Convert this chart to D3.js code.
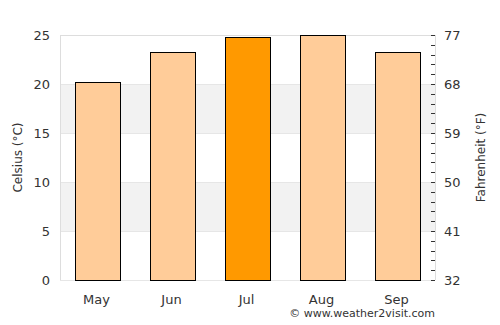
<!DOCTYPE html>
<html>
<head>
<meta charset="utf-8">
<script src="https://cdn.jsdelivr.net/npm/d3@7"></script>
<style>
  body { margin: 0; background: #fff; }
  text { font-family: "DejaVu Sans", sans-serif; fill: #333; }
</style>
</head>
<body>
<div id="chart"></div>
<script>
// monthly average temperatures (°C)
const months = ["May", "Jun", "Jul", "Aug", "Sep"];
const temps = [20.2, 23.3, 24.8, 25.0, 23.3];
const hottest = "Jul";
const celsiusTicks = [0, 5, 10, 15, 20, 25];
const fahrenheitTicks = [32, 41, 50, 59, 68, 77];

const width = 500;
const height = 325;
const margin = { top: 35, right: 65, bottom: 45, left: 60 };
const innerW = width - margin.left - margin.right;
const innerH = height - margin.top - margin.bottom;

const svg = d3.select("#chart")
  .append("svg")
  .attr("width", width)
  .attr("height", height);

const g = svg.append("g")
  .attr("transform", `translate(${margin.left},${margin.top})`);

const x = d3.scaleBand()
  .domain(months)
  .range([0, innerW])
  .paddingInner(0.4)
  .paddingOuter(0.2);

const y = d3.scaleLinear().domain([0, 25]).range([innerH, 0]);
const yF = d3.scaleLinear().domain([32, 77]).range([innerH, 0]);

// alternate shaded bands
[[5, 10], [15, 20]].forEach(b => {
  g.append("rect")
    .attr("x", 0)
    .attr("y", y(b[1]))
    .attr("width", innerW)
    .attr("height", y(b[0]) - y(b[1]))
    .attr("fill", "#f2f2f2");
});

// gridlines
g.selectAll(".grid")
  .data(celsiusTicks)
  .enter()
  .append("line")
  .attr("x1", 0)
  .attr("x2", innerW)
  .attr("y1", d => Math.round(y(d)) + 0.5)
  .attr("y2", d => Math.round(y(d)) + 0.5)
  .attr("stroke", "#e6e6e6");

// frame
g.append("line").attr("x1", 0.5).attr("x2", 0.5).attr("y1", 0).attr("y2", innerH).attr("stroke", "#ddd");
g.append("line").attr("x1", innerW + 0.5).attr("x2", innerW + 0.5).attr("y1", 0).attr("y2", innerH).attr("stroke", "#ddd");
g.append("line").attr("x1", 0).attr("x2", innerW).attr("y1", 0.5).attr("y2", 0.5).attr("stroke", "#ddd");

// bars
g.selectAll(".bar")
  .data(months)
  .enter()
  .append("rect")
  .attr("x", d => Math.round(x(d)) + 0.5)
  .attr("y", (d, i) => Math.round(y(temps[i])) + 0.5)
  .attr("width", Math.round(x.bandwidth()))
  .attr("height", (d, i) => innerH - Math.round(y(temps[i])))
  .attr("fill", d => d === hottest ? "#ff9900" : "#ffcc99")
  .attr("stroke", "#000")
  .attr("stroke-width", 1);

// left axis labels
g.selectAll(".ylab")
  .data(celsiusTicks)
  .enter()
  .append("text")
  .attr("x", -10)
  .attr("y", d => y(d))
  .attr("dy", "0.35em")
  .attr("text-anchor", "end")
  .style("font-size", "13px")
  .text(d => d);

// right axis minor ticks (every 1 °C)
const minor = d3.range(0, 26, 1);
g.selectAll(".minor")
  .data(minor)
  .enter()
  .append("line")
  .attr("x1", innerW - 4)
  .attr("x2", innerW)
  .attr("y1", d => Math.round(y(d)) + 0.5)
  .attr("y2", d => Math.round(y(d)) + 0.5)
  .attr("stroke", "#333");

g.selectAll(".flab")
  .data(fahrenheitTicks)
  .enter()
  .append("text")
  .attr("x", innerW + 9)
  .attr("y", d => yF(d))
  .attr("dy", "0.35em")
  .attr("text-anchor", "start")
  .style("font-size", "13px")
  .text(d => d);

// month labels
g.selectAll(".xlab")
  .data(months)
  .enter()
  .append("text")
  .attr("x", d => x(d) + x.bandwidth() / 2 - 1)
  .attr("y", innerH + 19)
  .attr("dy", "0.35em")
  .attr("text-anchor", "middle")
  .style("font-size", "13px")
  .text(d => d);

// axis titles
svg.append("text")
  .attr("transform", `translate(18,${margin.top + innerH / 2}) rotate(-90)`)
  .attr("dy", "0.35em")
  .attr("text-anchor", "middle")
  .style("font-size", "12px")
  .text("Celsius (°C)");

svg.append("text")
  .attr("transform", `translate(481,${margin.top + innerH / 2}) rotate(-90)`)
  .attr("dy", "0.35em")
  .attr("text-anchor", "middle")
  .style("font-size", "12px")
  .text("Fahrenheit (°F)");

svg.append("text")
  .attr("x", margin.left + innerW)
  .attr("y", 317)
  .attr("text-anchor", "end")
  .style("font-size", "11px")
  .text("© www.weather2visit.com");
</script>
</body>
</html>
